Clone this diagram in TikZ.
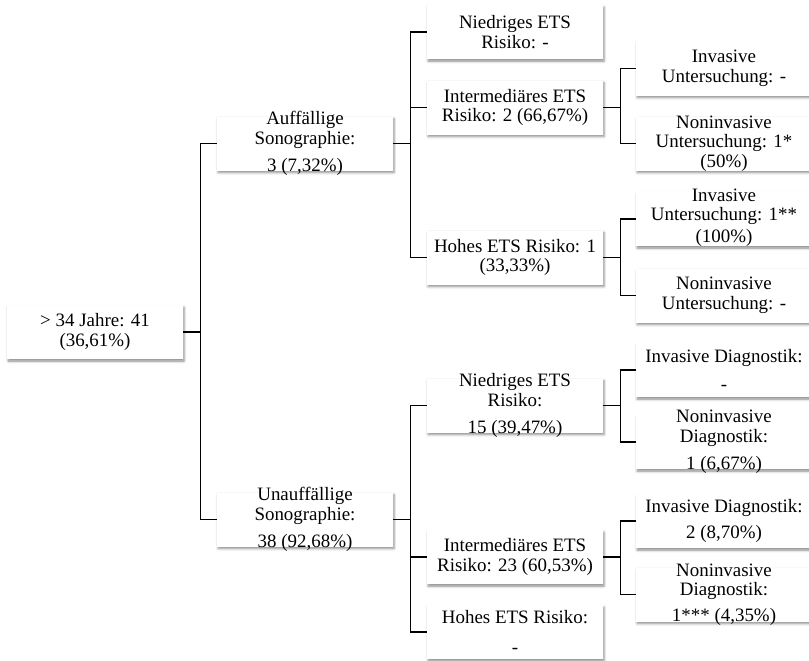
\documentclass[tikz,border=0pt]{standalone}
\usepackage{fontspec}
\setmainfont{Liberation Serif}
\usetikzlibrary{shadows.blur}

\begin{document}
\begin{tikzpicture}[x=0.75pt,y=-0.75pt,
  box/.style={fill=white,minimum width=132pt,minimum height=40.5pt,inner sep=0pt,
    blur shadow={shadow xshift=0.8pt,shadow yshift=-1.6pt,shadow blur radius=1.8pt,shadow opacity=45}},
  txt/.style={align=center,inner sep=0pt,font=\fontsize{14.2}{14.6}\selectfont},
  link/.style={draw,line width=1pt}]
\useasboundingbox (0,0) rectangle (809,660);

% boxes
\node[box] (0) at (95,332) {};
\node[box] (1) at (305,143.5) {};
\node[box] (2) at (305,519.5) {};
\node[box] (11) at (515,32) {};
\node[box] (12) at (515,107.5) {};
\node[box] (13) at (515,257.5) {};
\node[box] (21) at (515,405.5) {};
\node[box] (22) at (515,557) {};
\node[box] (23) at (515,632) {};
\node[box] (121) at (724,68.5) {};
\node[box] (122) at (724,143.5) {};
\node[box] (131) at (724,219) {};
\node[box] (132) at (724,295.5) {};
\node[box] (211) at (724,370) {};
\node[box] (212) at (724,442) {};
\node[box] (221) at (724,521) {};
\node[box] (222) at (724,594.5) {};

% texts
\node[txt] (0t) at (0) {> 34 Jahre: 41\\(36,61\%)};
\node[txt] (1t) at (1) {Auffällige\\Sonographie:\\[6pt]3 (7,32\%)};
\node[txt] (2t) at (2) {Unauffällige\\Sonographie:\\[6pt]38 (92,68\%)};
\node[txt] (11t) at (11) {Niedriges ETS\\Risiko: -};
\node[txt] (12t) at (12) {Intermediäres ETS\\Risiko: 2 (66,67\%)};
\node[txt] (13t) at (13) {Hohes ETS Risiko: 1\\(33,33\%)};
\node[txt] (21t) at (21) {Niedriges ETS\\Risiko:\\[6pt]15 (39,47\%)};
\node[txt] (22t) at (22) {Intermediäres ETS\\Risiko: 23 (60,53\%)};
\node[txt] (23t) at (23) {Hohes ETS Risiko:\\[7.5pt]-};
\node[txt] (121t) at (121) {Invasive\\Untersuchung: -};
\node[txt] (122t) at (122) {Noninvasive\\Untersuchung: 1*\\(50\%)};
\node[txt] (131t) at ([yshift=1pt]131) {Invasive\\Untersuchung: 1**\\[2pt](100\%)};
\node[txt] (132t) at (132) {Noninvasive\\Untersuchung: -};
\node[txt] (211t) at (211) {Invasive Diagnostik:\\[6.5pt]-};
\node[txt] (212t) at (212) {Noninvasive\\Diagnostik:\\[6pt]1 (6,67\%)};
\node[txt] (221t) at (221) {Invasive Diagnostik:\\[4.5pt]2 (8,70\%)};
\node[txt] (222t) at (222) {Noninvasive\\Diagnostik:\\[4.5pt]1*** (4,35\%)};

% connectors
\path[link] (0.east) -- ++(17,0) |- (1.west);
\path[link] (0.east) -- ++(17,0) |- (2.west);
\path[link] (1.east) -- ++(17,0) |- (11.west);
\path[link] (1.east) -- ++(17,0) |- (12.west);
\path[link] (1.east) -- ++(17,0) |- (13.west);
\path[link] (2.east) -- ++(17,0) |- (21.west);
\path[link] (2.east) -- ++(17,0) |- (22.west);
\path[link] (2.east) -- ++(17,0) |- (23.west);
\path[link] (12.east) -- ++(17,0) |- (121.west);
\path[link] (12.east) -- ++(17,0) |- (122.west);
\path[link] (13.east) -- ++(17,0) |- (131.west);
\path[link] (13.east) -- ++(17,0) |- (132.west);
\path[link] (21.east) -- ++(17,0) |- (211.west);
\path[link] (21.east) -- ++(17,0) |- (212.west);
\path[link] (22.east) -- ++(17,0) |- (221.west);
\path[link] (22.east) -- ++(17,0) |- (222.west);
\end{tikzpicture}
\end{document}
